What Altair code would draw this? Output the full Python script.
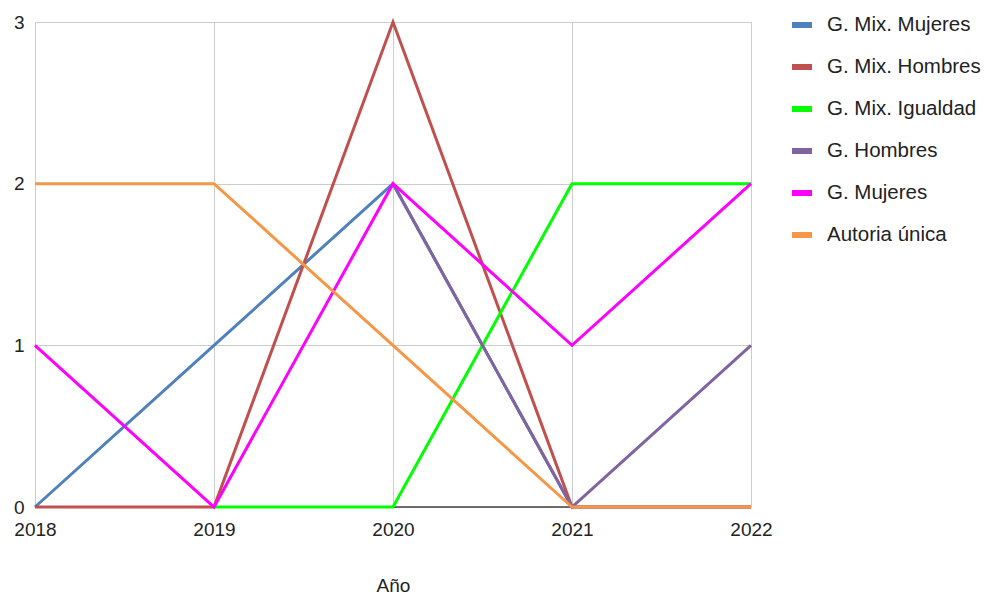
import altair as alt
import pandas as pd

years = [2018, 2019, 2020, 2021, 2022]
series = [
    "G. Mix. Mujeres",
    "G. Mix. Hombres",
    "G. Mix. Igualdad",
    "G. Hombres",
    "G. Mujeres",
    "Autoria única",
]
mix_mujeres = [0, 1, 2, 0, 0]
mix_hombres = [0, 0, 3, 0, 0]
mix_igualdad = [None, 0, 0, 2, 2]
hombres = [None, None, 2, 0, 1]
mujeres = [1, 0, 2, 1, 2]
autoria_unica = [2, 2, 1, 0, 0]
colors = ["#4f81bd", "#c0504d", "#00ff00", "#8064a2", "#ff00ff", "#f79646"]

values = [mix_mujeres, mix_hombres, mix_igualdad, hombres, mujeres, autoria_unica]

rows = []
for name, vals in zip(series, values):
    for y, v in zip(years, vals):
        rows.append({"Año": y, "Valor": v, "Serie": name})
df = pd.DataFrame(rows)

FONT = "Liberation Sans"
TEXT = "#222222"

color = alt.Color(
    "Serie:N",
    scale=alt.Scale(domain=series, range=colors),
    legend=alt.Legend(
        title=None,
        orient="none",
        legendX=754,
        legendY=-8,
        symbolType="stroke",
        symbolStrokeWidth=6,
        symbolSize=400,
        labelFont=FONT,
        labelFontSize=20.5,
        labelColor=TEXT,
        labelOffset=12,
        rowPadding=20,
        clipHeight=22,
        labelLimit=300,
    ),
)

x = alt.X(
    "Año:Q",
    scale=alt.Scale(domain=[2018, 2022], nice=False, zero=False),
    axis=alt.Axis(
        values=years,
        format="d",
        labelFont=FONT,
        labelFontSize=19,
        labelColor=TEXT,
        labelPadding=13,
        labelFlush=False,
        ticks=False,
        domain=False,
        gridColor="#cccccc",
        titleFont=FONT,
        titleFontSize=19,
        titleFontWeight="normal",
        titleColor=TEXT,
        titlePadding=37,
    ),
)
y = alt.Y(
    "Valor:Q",
    scale=alt.Scale(domain=[0, 3], nice=False),
    axis=alt.Axis(
        values=[0, 1, 2, 3],
        format="d",
        title=None,
        labelFont=FONT,
        labelFontSize=19,
        labelColor=TEXT,
        labelPadding=11,
        ticks=False,
        domain=False,
        gridColor="#cccccc",
    ),
)

# zero baseline drawn beneath the series
base_line = alt.Chart(pd.DataFrame({"v": [0]})).mark_rule(
    color="#444444", strokeWidth=1.5
).encode(y=alt.Y("v:Q", scale=alt.Scale(domain=[0, 3])))

layers = [base_line]
for name in series:
    layers.append(
        alt.Chart(df[df["Serie"] == name])
        .mark_line(strokeWidth=3)
        .encode(x=x, y=y, color=color)
    )

chart = (
    alt.layer(*layers)
    .properties(
        width=716,
        height=485,
        padding={"left": 35, "top": 22, "right": 233, "bottom": 88},
        autosize=alt.AutoSizeParams(type="none"),
    )
    .configure_view(stroke=None)
    .configure(background="white")
)

chart.save("out.html", embed_options={"renderer": "svg", "actions": False})
